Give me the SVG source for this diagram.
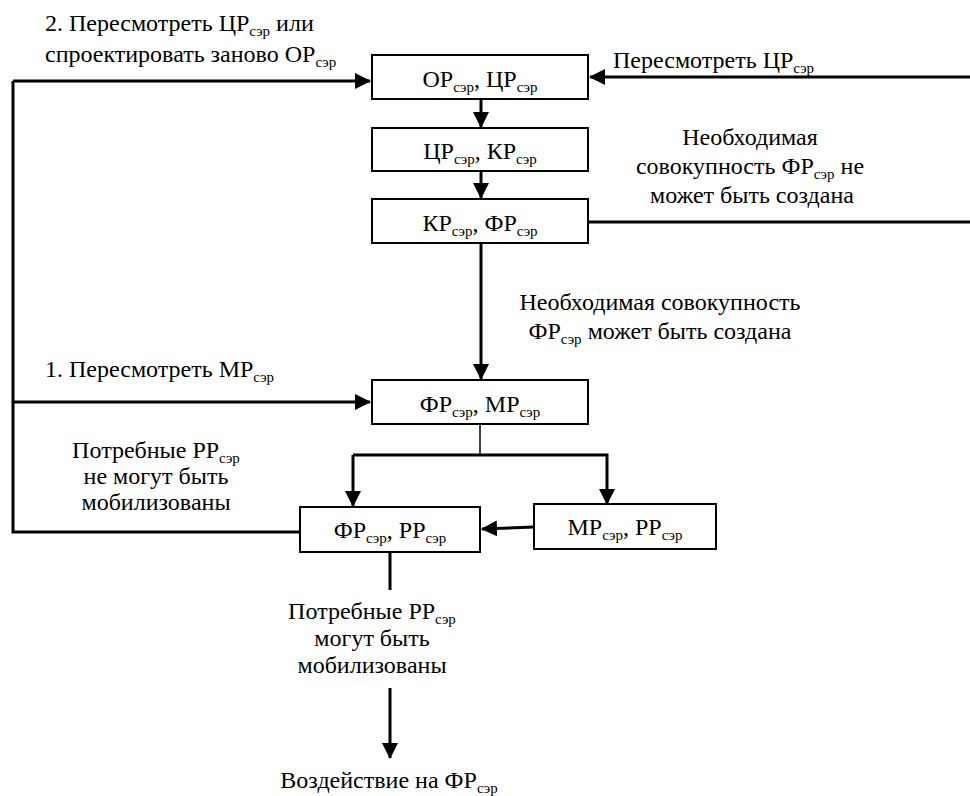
<svg xmlns="http://www.w3.org/2000/svg" width="970" height="796" viewBox="0 0 970 796">
<style>
text{font-family:'Liberation Serif','Times New Roman',serif;font-size:24px;fill:#000}
.s{font-size:15px}
.box{fill:#fff;stroke:#000;stroke-width:2}
.ln{fill:none;stroke:#000;stroke-width:3}
.thin{fill:none;stroke:#000;stroke-width:1.5}
.m{text-anchor:middle}
</style>
<defs>
<marker id="ah" markerUnits="userSpaceOnUse" markerWidth="16" markerHeight="16" viewBox="0 0 16 16" refX="15" refY="8" orient="auto">
<path d="M0,0 L16,8 L0,16 Z" fill="#000"/>
</marker>
</defs>
<g id="connectors">
<path class="ln" d="M13,81 L13,532 L300,532"/>
<path class="ln" d="M13,81 L370,81" marker-end="url(#ah)"/>
<path class="ln" d="M970,77 L590,77" marker-end="url(#ah)"/>
<path class="ln" d="M481,99 L481,127" marker-end="url(#ah)"/>
<path class="ln" d="M481,171 L481,198" marker-end="url(#ah)"/>
<path class="ln" d="M588,222 L970,222"/>
<path class="ln" d="M481,243 L481,379" marker-end="url(#ah)"/>
<path class="ln" d="M13,402 L370,402" marker-end="url(#ah)"/>
<path class="thin" d="M480,424 L480,455"/>
<path class="ln" d="M353,455 L607,455 L607,504" marker-end="url(#ah)"/>
<path class="ln" d="M353,455 L353,506" marker-end="url(#ah)"/>
<path class="ln" d="M534,527 L482,529" marker-end="url(#ah)"/>
<path class="ln" d="M390,552 L390,590"/>
<path class="ln" d="M390,688 L390,758" marker-end="url(#ah)"/>
</g>
<g id="n1"><rect class="box" x="372" y="55" width="216" height="44"/>
<text class="m" x="480" y="87">ОР<tspan class="s" dy="5">сэр</tspan><tspan dy="-5">, ЦР</tspan><tspan class="s" dy="5">сэр</tspan></text></g>
<g id="n2"><rect class="box" x="372" y="128" width="216" height="43"/>
<text class="m" x="480" y="159">ЦР<tspan class="s" dy="5">сэр</tspan><tspan dy="-5">, КР</tspan><tspan class="s" dy="5">сэр</tspan></text></g>
<g id="n3"><rect class="box" x="372" y="199" width="216" height="44"/>
<text class="m" x="480" y="231">КР<tspan class="s" dy="5">сэр</tspan><tspan dy="-5">, ФР</tspan><tspan class="s" dy="5">сэр</tspan></text></g>
<g id="n4"><rect class="box" x="372" y="380" width="216" height="44"/>
<text class="m" x="480" y="412">ФР<tspan class="s" dy="5">сэр</tspan><tspan dy="-5">, МР</tspan><tspan class="s" dy="5">сэр</tspan></text></g>
<g id="n5"><rect class="box" x="300" y="507" width="180" height="45"/>
<text class="m" x="390" y="538">ФР<tspan class="s" dy="5">сэр</tspan><tspan dy="-5">, РР</tspan><tspan class="s" dy="5">сэр</tspan></text></g>
<g id="n6"><rect class="box" x="534" y="504" width="182" height="45"/>
<text class="m" x="625" y="535">МР<tspan class="s" dy="5">сэр</tspan><tspan dy="-5">, РР</tspan><tspan class="s" dy="5">сэр</tspan></text></g>
<g id="labels">
<text x="45" y="31">2. Пересмотреть ЦР<tspan class="s" dy="5">сэр</tspan><tspan dy="-5"> или</tspan></text>
<text x="45" y="62">спроектировать заново ОР<tspan class="s" dy="5">сэр</tspan></text>
<text x="613" y="68">Пересмотреть ЦР<tspan class="s" dy="5">сэр</tspan></text>
<text class="m" x="750" y="145">Необходимая</text>
<text class="m" x="750" y="174">совокупность ФР<tspan class="s" dy="5">сэр</tspan><tspan dy="-5"> не</tspan></text>
<text class="m" x="752" y="203">может быть создана</text>
<text class="m" x="660" y="310">Необходимая совокупность</text>
<text class="m" x="660" y="339">ФР<tspan class="s" dy="5">сэр</tspan><tspan dy="-5"> может быть создана</tspan></text>
<text x="45" y="377">1. Пересмотреть МР<tspan class="s" dy="5">сэр</tspan></text>
<text class="m" x="156" y="458">Потребные РР<tspan class="s" dy="5">сэр</tspan></text>
<text class="m" x="156" y="484">не могут быть</text>
<text class="m" x="156" y="510">мобилизованы</text>
<text class="m" x="372" y="619">Потребные РР<tspan class="s" dy="5">сэр</tspan></text>
<text class="m" x="372" y="646">могут быть</text>
<text class="m" x="372" y="673">мобилизованы</text>
<text class="m" x="389" y="788">Воздействие на ФР<tspan class="s" dy="5">сэр</tspan></text>
</g>
</svg>
